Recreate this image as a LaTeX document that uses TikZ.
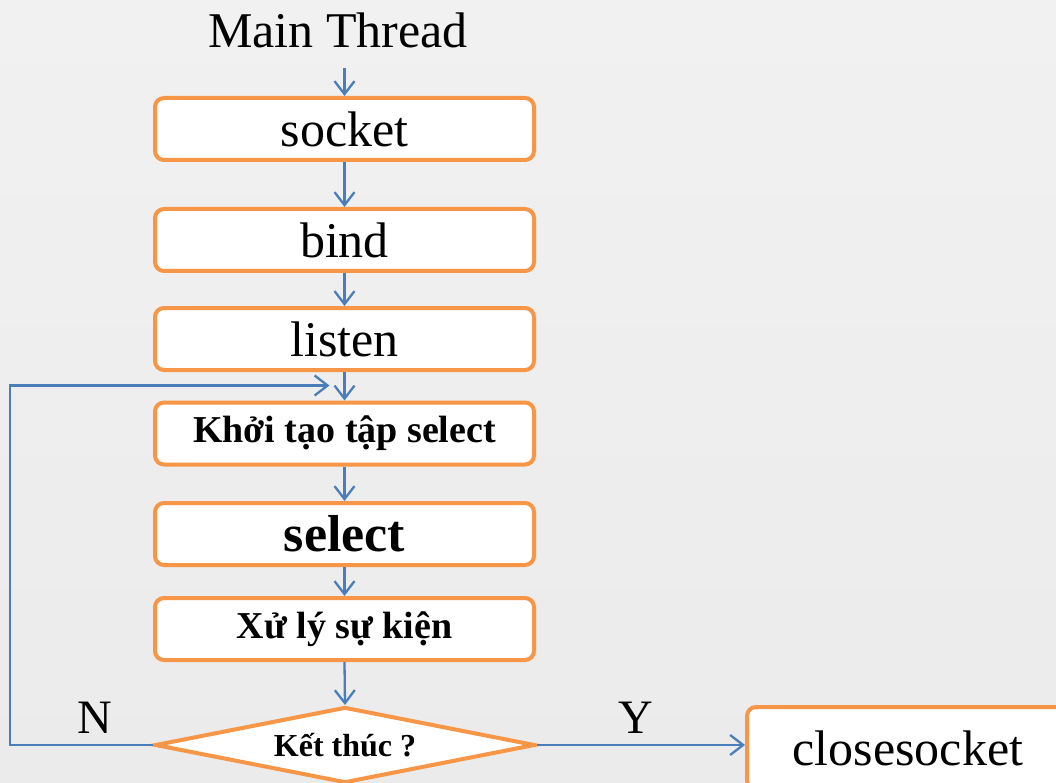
\documentclass[tikz,border=0pt]{standalone}
\usepackage{fontspec}
\setmainfont{Liberation Serif}
\usetikzlibrary{arrows.meta,shapes.geometric}
\definecolor{boxorange}{RGB}{247,150,70}
\definecolor{flowblue}{RGB}{74,126,187}
\definecolor{bgtop}{RGB}{241,241,241}
\definecolor{bgbottom}{RGB}{235,235,235}
\tikzset{
  stepbox/.style={draw=boxorange, line width=4pt, fill=white, rounded corners=9pt,
    minimum width=379pt, minimum height=62pt, inner sep=0pt,
    font=\fontsize{50}{55}\selectfont},
  boldbox/.style={stepbox, font=\bfseries\fontsize{38}{42}\selectfont},
  decision/.style={diamond, aspect=5, draw=boxorange, line width=4pt, fill=white,
    inner sep=0pt, minimum width=380pt, minimum height=76pt,
    font=\bfseries\fontsize{32}{36}\selectfont},
  flow/.style={draw=flowblue, line width=2.3pt,
    -{Straight Barb[length=13pt,width=20pt]}},
  plain/.style={font=\fontsize{50}{55}\selectfont, inner sep=0pt},
}
\begin{document}
\begin{tikzpicture}[x=1pt, y=-1pt]
  \useasboundingbox (0,0) rectangle (1056,783);
  \clip (0,0) rectangle (1056,783);
  \shade[top color=bgtop, bottom color=bgbottom] (0,0) rectangle (1056,783);

  % title and processing steps
  \node[plain] (mt) at (338,30) {Main Thread};
  \coordinate (mtout) at (344.5,68);
  \node[stepbox] (socket) at (344.5,129) {socket};
  \node[stepbox] (bind) at (344.5,240) {bind};
  \node[stepbox] (listen) at (344.5,339) {listen};
  \node[boldbox] (init) at (344.5,433.5) {Khởi tạo tập select};
  \node[stepbox, font=\bfseries\fontsize{52}{56}\selectfont] (sel) at (344.5,534) {select};
  \node[boldbox] (proc) at (344.5,629) {Xử lý sự kiện};
  \node[decision] (dec) at (345,745) {Kết thúc ?};
  \node[stepbox, minimum width=322pt, minimum height=82pt] (close) at (908,748) {closesocket};

  % branch labels
  \node[plain, font=\fontsize{48}{52}\selectfont] (lblN) at (95,718) {N};
  \node[plain, font=\fontsize{48}{52}\selectfont] (lblY) at (636,718) {Y};

  % connectors
  \draw[flow] (mtout) -- (socket.north);
  \draw[flow] (socket.south) -- (bind.north);
  \draw[flow] (bind.south) -- (listen.north);
  \draw[flow] (listen.south) -- (init.north);
  \draw[flow] (init.south) -- (sel.north);
  \draw[flow] (sel.south) -- (proc.north);
  \draw[flow] (proc.south) -- (dec.north);
  \draw[flow] (dec.east) -- (dec.east -| close.west);
  \draw[flow] (dec.west) -- ++(-143,0) |- ([xshift=-15pt,yshift=15pt]init.north);
\end{tikzpicture}
\end{document}
